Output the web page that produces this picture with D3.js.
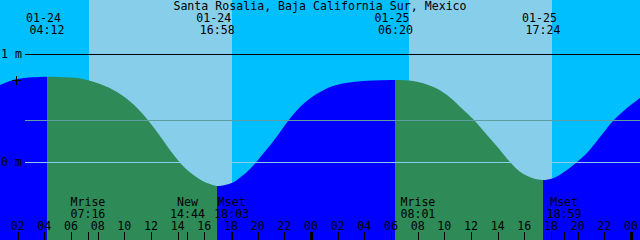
<!DOCTYPE html>
<html>
<head>
<meta charset="utf-8">
<script src="https://cdn.jsdelivr.net/npm/d3@7"></script>
<style>
  body { margin: 0; background: #00bfff; }
  svg text { font-family: "DejaVu Sans Mono", monospace; font-size: 11.6px; fill: #000; }
</style>
</head>
<body>
<div id="canvas"></div>
<script>
const width = 640;
const height = 240;

const title = "Santa Rosalia, Baja California Sur, Mexico";

// tide curve: hours since 01-24 00:00, metres
const tideHour = [0.675, 1.875, 3.15, 4.2, 5.7, 6.9, 8.175, 9.45, 10.65, 11.7, 12.675, 13.65,
  14.55, 15.675, 16.425, 16.97, 17.55, 18.15, 18.825, 19.425, 20.025, 20.7, 21.525, 22.275,
  23.175, 23.925, 24.675, 25.65, 27.15, 28.65, 30.33, 31.65, 33.15, 34.2, 35.175, 36.225,
  37.2, 38.175, 38.925, 39.675, 40.65, 41.4, 42.15, 43.2, 43.95, 44.7, 45.675, 46.65,
  47.7, 48.675];
const tideHeight = [0.713, 0.766, 0.784, 0.790, 0.784, 0.769, 0.722, 0.648, 0.537, 0.398, 0.241, 0.074,
  -0.056, -0.162, -0.204, -0.222, -0.213, -0.190, -0.130, -0.065, 0.019, 0.120, 0.250, 0.380,
  0.509, 0.588, 0.648, 0.704, 0.741, 0.755, 0.759, 0.750, 0.697, 0.620, 0.512, 0.389,
  0.250, 0.111, 0.0, -0.090, -0.151, -0.167, -0.151, -0.074, 0.0, 0.083, 0.231, 0.380,
  0.500, 0.593];

// high / low tides
const tideEventHour = [4.2, 16.967, 30.333, 41.4];
const tideEventDate = ["01-24", "01-24", "01-25", "01-25"];
const tideEventTime = ["04:12", "16:58", "06:20", "17:24"];

// daylight
const sunriseHour = [7.35, 31.35];
const sunsetHour = [18.07, 42.07];

// moon
const moonHour = [7.267, 14.733, 18.05, 32.017, 42.983];
const moonName = ["Mrise", "New", "Mset", "Mrise", "Mset"];
const moonTime = ["07:16", "14:44", "18:03", "08:01", "18:59"];

// depth lines
const depthTicks = [1, 0];
const depthLabels = ["1 m", "0 m"];
const mslLevel = 0.39;

// "+" mark
const markHour = 1.9;
const markHeight = 0.76;

const startHour = 0.675;
const endHour = 48.675;

const colors = {
  night: "#00bfff", day: "#87ceeb", rise: "#0000ff", fall: "#2e8b57",
  msl: "#5f9ea0", datum: "#87ceeb", fg: "#000"
};

const base = new Date(2020, 0, 24, 0, 0);
const toDate = h => new Date(base.getTime() + h * 3600000);

const x = d3.scaleTime()
  .domain([toDate(startHour), toDate(endHour)])
  .range([0, width]);
const y = d3.scaleLinear()
  .domain([0, 1])
  .range([162, 54]);

const svg = d3.select("#canvas").append("svg")
  .attr("width", width)
  .attr("height", height);

// sky
svg.append("rect")
  .attr("width", width).attr("height", height)
  .attr("fill", colors.night);
svg.selectAll(".day").data(sunriseHour).enter().append("rect")
  .attr("class", "day")
  .attr("x", d => x(toDate(d)))
  .attr("width", (d, i) => x(toDate(sunsetHour[i])) - x(toDate(d)))
  .attr("y", 0).attr("height", height)
  .attr("fill", colors.day)
  .attr("shape-rendering", "crispEdges");

// water, blue while rising, green while falling
const tide = tideHour.map((h, i) => ({ t: toDate(h), v: tideHeight[i] }));
const area = d3.area()
  .curve(d3.curveCatmullRom.alpha(0.5))
  .x(d => x(d.t))
  .y0(height)
  .y1(d => y(d.v));

const bounds = [startHour, ...tideEventHour, endHour];
const defs = svg.append("defs");
for (let i = 0; i < bounds.length - 1; i++) {
  const x0 = Math.round(x(toDate(bounds[i])));
  const x1 = Math.round(x(toDate(bounds[i + 1])));
  defs.append("clipPath").attr("id", "seg" + i)
    .append("rect")
    .attr("x", x0).attr("width", x1 - x0)
    .attr("y", 0).attr("height", height);
  svg.append("path")
    .datum(tide)
    .attr("d", area)
    .attr("fill", i % 2 === 0 ? colors.rise : colors.fall)
    .attr("clip-path", `url(#seg${i})`);
}

// level lines
const lineG = svg.append("g").attr("shape-rendering", "crispEdges");
lineG.append("line")
  .attr("x1", 25).attr("x2", width)
  .attr("y1", y(mslLevel) + 0.5).attr("y2", y(mslLevel) + 0.5)
  .attr("stroke", colors.msl);
lineG.selectAll(".depth").data(depthTicks).enter().append("line")
  .attr("class", "depth")
  .attr("x1", 25).attr("x2", width)
  .attr("y1", d => y(d) + 0.5).attr("y2", d => y(d) + 0.5)
  .attr("stroke", d => d === 0 ? colors.datum : colors.fg);
svg.selectAll(".dlabel").data(depthTicks).enter().append("text")
  .attr("x", 1)
  .attr("y", d => y(d) + 4)
  .attr("xml:space", "preserve")
  .text((d, i) => depthLabels[i]);

// "+" mark
const mx = Math.round(x(toDate(markHour))) + 0.5;
const my = Math.round(y(markHeight)) + 0.5;
svg.append("path")
  .attr("d", `M${mx - 4.5},${my}H${mx + 4.5}M${mx},${my - 4.5}V${my + 4.5}`)
  .attr("stroke", colors.fg)
  .attr("shape-rendering", "crispEdges");

// title and tide labels
svg.append("text")
  .attr("x", width / 2).attr("y", 10)
  .attr("text-anchor", "middle")
  .text(title);
const tideLab = svg.selectAll(".tlab").data(tideEventHour).enter().append("g")
  .attr("transform", d => `translate(${x(toDate(d))},0)`);
tideLab.append("text")
  .attr("x", -3.5).attr("y", 21.8)
  .attr("text-anchor", "middle")
  .text((d, i) => tideEventDate[i]);
tideLab.append("text")
  .attr("y", 34)
  .attr("text-anchor", "middle")
  .text((d, i) => tideEventTime[i]);

// moon labels
const moonLab = svg.selectAll(".mlab").data(moonHour).enter().append("g")
  .attr("transform", d => `translate(${x(toDate(d))},0)`);
moonLab.append("text")
  .attr("y", 206)
  .attr("text-anchor", "middle")
  .text((d, i) => moonName[i]);
moonLab.append("text")
  .attr("y", 218)
  .attr("text-anchor", "middle")
  .text((d, i) => moonTime[i]);

// hour axis
const hours = d3.timeHour.every(2).range(x.domain()[0], x.domain()[1]);
const axisG = svg.append("g").attr("shape-rendering", "crispEdges");
axisG.selectAll(".tick").data(hours).enter().append("rect")
  .attr("x", d => Math.round(x(d)) - (d.getHours() === 0 ? 1 : 0))
  .attr("width", d => d.getHours() === 0 ? 3 : 1)
  .attr("y", 232).attr("height", 8)
  .attr("fill", colors.fg);
axisG.selectAll(".mtick").data(moonHour).enter().append("rect")
  .attr("x", d => Math.round(x(toDate(d))))
  .attr("width", 1)
  .attr("y", 232).attr("height", 8)
  .attr("fill", colors.fg);
svg.selectAll(".hlab").data(hours).enter().append("text")
  .attr("x", d => x(d))
  .attr("y", 230)
  .attr("text-anchor", "middle")
  .text(d3.timeFormat("%H"));
</script>
</body>
</html>
